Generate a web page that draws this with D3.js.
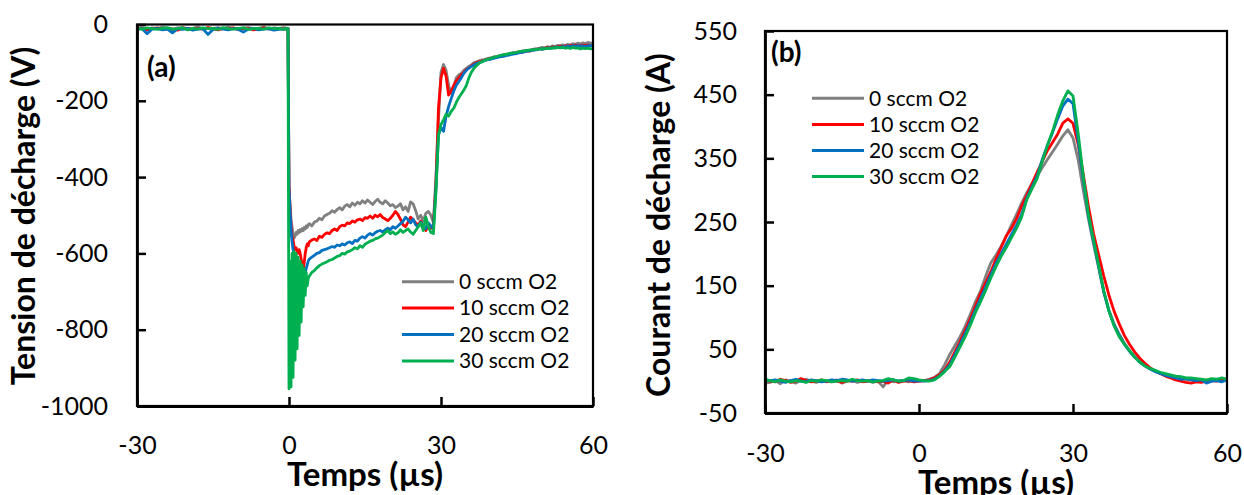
<!DOCTYPE html>
<html><head><meta charset="utf-8">
<script src="https://cdn.jsdelivr.net/npm/d3@7/dist/d3.min.js"></script>
<style>body{margin:0;background:#fff;}svg{display:block;}text{font-family:Lato,"Open Sans",sans-serif;}</style>
</head><body><svg id="chart" width="1244" height="495"></svg>
<script>
// ---------- shared ----------
const seriesNames = ["0 sccm O2", "10 sccm O2", "20 sccm O2", "30 sccm O2"];
const seriesColors = ["#808080", "#FF0000", "#0070C0", "#00B050"];

// ---------- panel (a): Tension de décharge (V) ----------
const xTicksA = [-30, 0, 30, 60];
const yTicksA = [0, -200, -400, -600, -800, -1000];
// time grid of each segment (µs): start and step
const preStartA = -30, preStepA = 1;      // t = -30 .. -1
const dropStartA = -0.2, dropStepA = 0.2; // t = -0.2 .. 3.8
const mainStartA = 4, mainStepA = 0.5;    // t = 4 .. 60

const voltPre0 = [-10,-8,-12,-9,-11,-7,-10,-13,-9,-8,-11,-10,-6,-12,-9,-10,-8,-11,-7,-10,-12,-9,-8,-11,-10,-7,-12,-9,-10,-8];
const voltPre10 = [-12,-10,-14,-11,-9,-13,-10,-12,-15,-9,-11,-13,-10,-12,-8,-11,-14,-10,-12,-9,-13,-11,-10,-14,-12,-9,-11,-13,-10,-12];
const voltPre20 = [-13,-11,-24,-12,-10,-14,-12,-22,-11,-13,-10,-15,-12,-11,-26,-13,-10,-12,-14,-11,-13,-20,-12,-10,-14,-12,-11,-15,-13,-12];
const voltPre30 = [-10,-12,-9,-11,-13,-10,-8,-12,-11,-9,-14,-10,-12,-9,-11,-10,-13,-8,-11,-12,-10,-9,-13,-11,-10,-12,-9,-11,-10,-12];

const voltDrop0 = [-10,-430,-470,-510,-530,-550,-560,-555,-545,-550,-540,-545,-538,-542,-535,-540,-532,-536,-528,-532,-525];
const voltDrop10 = [-10,-420,-480,-530,-555,-565,-580,-590,-585,-595,-600,-590,-600,-615,-630,-645,-625,-600,-585,-575,-580];
const voltDrop20 = [-10,-430,-490,-540,-570,-590,-600,-610,-620,-625,-630,-635,-640,-645,-650,-655,-660,-650,-640,-630,-620];
const voltDrop30 = [-10,-955,-620,-950,-600,-925,-595,-880,-600,-850,-610,-815,-620,-780,-630,-740,-640,-710,-650,-685,-665];

const voltMain0 = [
 -522,-528,-518,-515,-508,-512,-502,-498,-495,-488,
 -492,-485,-480,-486,-476,-472,-478,-468,-474,-466,
 -470,-462,-468,-460,-466,-472,-464,-458,-466,-470,
 -462,-468,-475,-472,-480,-476,-470,-486,-478,-490,
 -465,-470,-488,-510,-500,-515,-495,-490,-500,-520,
 -400,-250,-125,-105,-120,-160,-180,-165,-140,-132,
 -128,-120,-115,-110,-106,-100,-98,-95,-93,-92,
 -90,-88,-87,-85,-84,-82,-80,-79,-78,-76,
 -75,-74,-72,-72,-70,-69,-68,-67,-66,-64,
 -63,-62,-60,-62,-58,-60,-56,-58,-55,-56,
 -53,-55,-52,-54,-50,-52,-49,-51,-48,-50,
 -47,-49,-48];
const voltMain10 = [
 -570,-565,-562,-566,-555,-558,-550,-546,-548,-540,
 -536,-540,-530,-526,-528,-520,-522,-515,-518,-512,
 -510,-514,-506,-508,-502,-508,-500,-504,-498,-506,
 -510,-514,-508,-500,-490,-498,-510,-525,-530,-518,
 -505,-512,-520,-526,-515,-530,-540,-528,-535,-525,
 -420,-220,-140,-115,-135,-185,-175,-160,-148,-140,
 -132,-126,-118,-114,-108,-104,-100,-98,-96,-94,
 -92,-90,-88,-86,-85,-83,-84,-80,-79,-78,
 -76,-75,-74,-72,-73,-70,-69,-70,-67,-66,
 -65,-63,-64,-62,-60,-61,-59,-60,-58,-57,
 -58,-56,-57,-55,-56,-54,-55,-56,-54,-55,
 -54,-56,-55];
const voltMain20 = [
 -615,-610,-605,-600,-598,-592,-590,-588,-585,-582,
 -584,-578,-580,-575,-578,-572,-570,-574,-566,-568,
 -560,-556,-560,-552,-548,-552,-546,-542,-540,-544,
 -538,-534,-538,-530,-534,-528,-522,-516,-505,-512,
 -520,-510,-525,-530,-518,-526,-535,-520,-528,-535,
 -430,-290,-270,-280,-240,-215,-195,-175,-160,-150,
 -140,-128,-120,-114,-110,-106,-102,-100,-98,-95,
 -93,-92,-90,-88,-87,-85,-84,-83,-81,-80,
 -78,-77,-76,-74,-73,-72,-70,-69,-68,-67,
 -66,-64,-65,-63,-62,-61,-62,-60,-59,-60,
 -58,-59,-57,-58,-56,-57,-55,-57,-56,-58,
 -56,-55,-57];
const voltMain30 = [
 -660,-650,-645,-638,-632,-628,-625,-622,-618,-616,
 -612,-608,-606,-600,-602,-596,-594,-590,-585,-588,
 -580,-584,-576,-572,-568,-566,-562,-560,-556,-552,
 -545,-540,-548,-544,-550,-546,-538,-545,-540,-536,
 -544,-550,-540,-530,-520,-540,-505,-530,-545,-548,
 -440,-290,-262,-250,-235,-240,-228,-220,-205,-192,
 -182,-172,-160,-140,-125,-115,-108,-102,-98,-95,
 -92,-90,-88,-85,-84,-82,-80,-79,-78,-76,
 -75,-74,-73,-71,-70,-69,-68,-67,-66,-66,
 -65,-64,-63,-64,-62,-63,-61,-62,-60,-61,
 -60,-62,-61,-63,-60,-62,-61,-64,-62,-63,
 -62,-64,-63];

// ---------- panel (b): Courant de décharge (A) ----------
const xTicksB = [-30, 0, 30, 60];
const yTicksB = [-50, 50, 150, 250, 350, 450, 550];
const startB = -30, stepB = 1; // t = -30 .. 60

const current0 = [
 -3,-2,1,-4,2,0,-3,1,3,0,
 -2,1,0,-1,2,-3,0,1,-2,0,
 1,-2,0,-9,2,-1,0,1,-1,2,
 0,1,3,6,12,26,42,56,70,86,
 105,125,142,165,186,198,212,228,245,262,
 280,296,310,322,335,348,360,372,385,395,
 382,348,300,255,215,178,140,112,90,74,
 60,48,38,30,25,20,16,12,10,8,
 6,4,3,2,1,2,0,1,3,2,
 4];
const current10 = [
 2,0,-1,3,1,-2,0,4,1,-1,
 0,2,-1,1,0,-2,1,0,2,-1,
 0,1,-1,0,-3,2,-2,0,1,-1,
 0,1,2,5,10,18,30,46,62,80,
 98,118,138,155,172,192,210,228,240,255,
 275,292,310,328,345,362,375,388,405,412,
 405,372,325,275,232,198,165,135,110,90,
 72,58,46,36,28,21,16,12,8,5,
 2,0,-2,-3,-1,-2,0,1,0,2,
 3];
const current20 = [
 3,1,2,0,-2,1,3,0,-1,2,
 1,-1,0,2,1,3,2,0,1,2,
 0,2,1,0,1,2,0,1,2,0,
 1,0,1,3,8,16,26,42,58,75,
 93,112,130,148,167,185,200,215,230,245,
 262,287,305,322,348,370,390,412,432,443,
 436,378,318,260,220,180,140,110,88,72,
 58,47,38,30,24,19,15,12,9,7,
 5,3,4,2,1,2,-3,0,1,-1,
 2];
const current30 = [
 2,1,-1,2,0,-1,1,0,-2,1,
 0,2,1,-1,0,1,0,3,1,0,
 1,-1,0,1,4,2,0,1,5,4,
 2,1,0,2,8,15,23,38,54,70,
 88,108,125,143,162,180,196,210,225,240,
 258,285,302,318,345,370,392,418,440,456,
 448,390,322,262,222,182,142,110,87,70,
 58,48,38,30,24,20,17,14,12,10,
 8,7,5,5,4,3,2,4,3,5,
 3];

// ---------- build point lists ----------
function seg(values, start, step) { return values.map((v, i) => [start + i * step, v]); }
const voltage = [
  [voltPre0, voltDrop0, voltMain0],
  [voltPre10, voltDrop10, voltMain10],
  [voltPre20, voltDrop20, voltMain20],
  [voltPre30, voltDrop30, voltMain30]
].map(([p, d, m]) => seg(p, preStartA, preStepA).concat(seg(d, dropStartA, dropStepA), seg(m, mainStartA, mainStepA)));
const current = [current0, current10, current20, current30].map(v => seg(v, startB, stepB));

const svg = d3.select("#chart");
svg.append("rect").attr("width", 1244).attr("height", 495).attr("fill", "#fff");

function panel(cfg) {
  const x = d3.scaleLinear().domain(cfg.xDomain).range([cfg.left, cfg.right]);
  const y = d3.scaleLinear().domain(cfg.yDomain).range([cfg.bottom, cfg.top]);
  const g = svg.append("g");
  const line = d3.line().x(d => x(d[0])).y(d => y(d[1]));
  cfg.data.forEach((pts, i) => {
    g.append("path").datum(pts).attr("d", line).attr("fill", "none")
      .attr("stroke", seriesColors[i]).attr("stroke-width", cfg.lw).attr("stroke-linejoin", "round");
  });
  // frame
  g.append("rect").attr("x", cfg.left).attr("y", cfg.top)
    .attr("width", cfg.right - cfg.left).attr("height", cfg.bottom - cfg.top)
    .attr("fill", "none").attr("stroke", "#000").attr("stroke-width", 2.2);
  // axes
  const ya = g.append("g").attr("transform", `translate(${cfg.left},0)`)
    .call(d3.axisLeft(y).tickValues(cfg.yTicks).tickSize(-9).tickSizeOuter(0).tickPadding(cfg.yPad).tickFormat(d3.format("d")));
  const xa = g.append("g").attr("transform", `translate(0,${cfg.bottom})`)
    .call(d3.axisBottom(x).tickValues(cfg.xTicks).tickSize(-9).tickSizeOuter(0).tickPadding(cfg.xPad).tickFormat(d3.format("d")));
  [ya, xa].forEach(a => {
    a.select(".domain").attr("stroke", "#000").attr("stroke-width", 2.8);
    a.selectAll(".tick line").attr("stroke", "#000").attr("stroke-width", 2.5);
    a.selectAll(".tick text").attr("font-family", "Lato").attr("font-size", 25).attr("fill", "#000");
  });
  ya.selectAll(".tick text").text(d => d < 0 ? "-" + Math.abs(d) : d);
  xa.selectAll(".tick text").text(d => d < 0 ? "-" + Math.abs(d) : d);
  // titles
  g.append("text").attr("transform", `translate(${cfg.yTitleX},${cfg.yTitleY}) rotate(-90)`)
    .attr("text-anchor", "middle").attr("font-weight", 700).attr("font-size", 32).text(cfg.yTitle);
  g.append("text").attr("x", (cfg.left + cfg.right) / 2).attr("y", cfg.xTitleY)
    .attr("text-anchor", "middle").attr("font-weight", 700).attr("font-size", 33).text("Temps (µs)");
  g.append("text").attr("x", cfg.tagX).attr("y", cfg.tagY).attr("font-weight", 700).attr("font-size", 28).text(cfg.tag);
  // legend
  seriesNames.forEach((n, i) => {
    const yy = cfg.legY + i * cfg.legDy;
    g.append("line").attr("x1", cfg.legX).attr("x2", cfg.legX + 52).attr("y1", yy).attr("y2", yy)
      .attr("stroke", seriesColors[i]).attr("stroke-width", 3);
    g.append("text").attr("x", cfg.legX + 57).attr("y", yy).attr("dy", "0.35em")
      .attr("font-size", 21).attr("fill", "#000").text(n);
  });
}

panel({ data: voltage, xDomain: [-30, 60], yDomain: [-1000, 0], left: 137, right: 593, top: 24.5, bottom: 406,
  xTicks: xTicksA, yTicks: yTicksA, yPad: 29, xPad: 30, lw: 2.8,
  yTitle: "Tension de décharge (V)", yTitleX: 35, yTitleY: 216, xTitleY: 486, tag: "(a)", tagX: 147, tagY: 77,
  legX: 402, legY: 281.7, legDy: 26.4 });
panel({ data: current, xDomain: [-30, 60], yDomain: [-50, 550], left: 765, right: 1227, top: 31, bottom: 413,
  xTicks: xTicksB, yTicks: yTicksB, yPad: 28, xPad: 31, lw: 2.8,
  yTitle: "Courant de décharge (A)", yTitleX: 670, yTitleY: 225, xTitleY: 494, tag: "(b)", tagX: 771, tagY: 62,
  legX: 812, legY: 98.3, legDy: 26.1 });
</script></body></html>
